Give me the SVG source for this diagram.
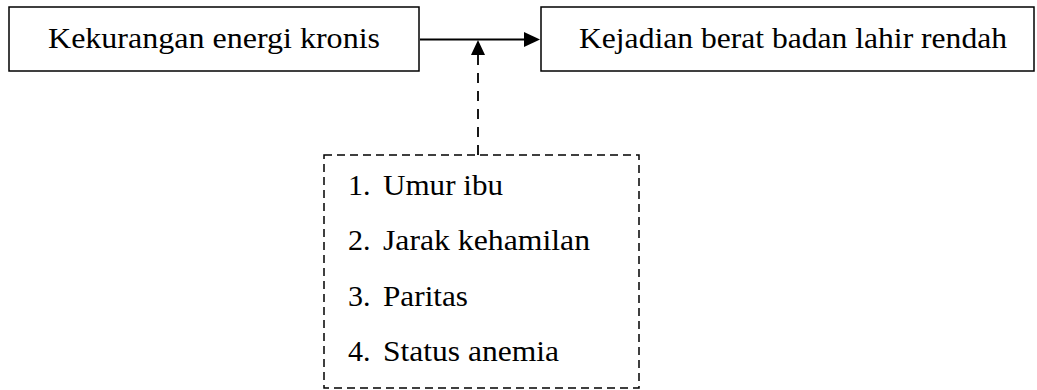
<svg xmlns="http://www.w3.org/2000/svg" width="1037" height="390" viewBox="0 0 1037 390">
<style>
.box{fill:#fff;stroke:#000;stroke-width:1.5}
.dbox{fill:none;stroke:#000;stroke-width:1.5;stroke-dasharray:8 5}
.t{font-family:"Liberation Serif","Times New Roman",serif;font-size:30px;fill:#000}
.ln{stroke:#000;stroke-width:1.8;fill:none}
.dl{stroke:#000;stroke-width:1.8;fill:none;stroke-dasharray:10 8}
</style>
<rect width="1037" height="390" fill="#fff"/>
<g id="node-kek">
<rect class="box" x="9" y="7" width="410" height="64"/>
<text class="t" x="48" y="47.5" textLength="332" lengthAdjust="spacingAndGlyphs">Kekurangan energi kronis</text>
</g>
<g id="node-bblr">
<rect class="box" x="541" y="7" width="493" height="64"/>
<text class="t" x="579" y="47.5" textLength="428" lengthAdjust="spacingAndGlyphs">Kejadian berat badan lahir rendah</text>
</g>
<g id="node-factors">
<rect class="dbox" x="324" y="155" width="315" height="233"/>
<text class="t" x="348" y="194.5">1.</text>
<text class="t" x="383" y="194.5" textLength="120" lengthAdjust="spacingAndGlyphs">Umur ibu</text>
<text class="t" x="348" y="250">2.</text>
<text class="t" x="383" y="250" textLength="207" lengthAdjust="spacingAndGlyphs">Jarak kehamilan</text>
<text class="t" x="348" y="305.7">3.</text>
<text class="t" x="383" y="305.7" textLength="85" lengthAdjust="spacingAndGlyphs">Paritas</text>
<text class="t" x="348" y="361">4.</text>
<text class="t" x="383" y="361" textLength="176" lengthAdjust="spacingAndGlyphs">Status anemia</text>
</g>
<g id="connectors">
<line class="ln" x1="420" y1="39.5" x2="526" y2="39.5"/>
<polygon points="540,39.5 524,32 524,47" fill="#000"/>
<line class="dl" x1="478" y1="155" x2="478" y2="55"/>
<polygon points="478,40 471,55 485,55" fill="#000"/>
</g>
</svg>
